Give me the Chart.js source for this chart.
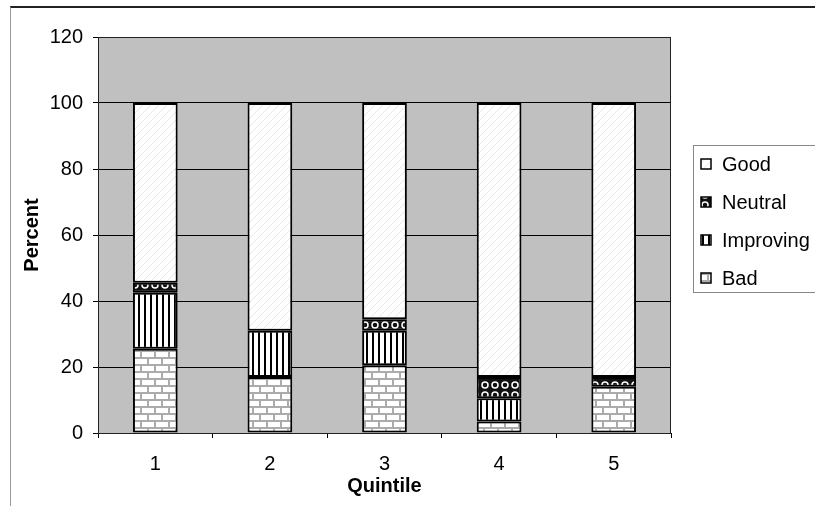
<!DOCTYPE html>
<html>
<head>
<meta charset="utf-8">
<script src="https://cdn.jsdelivr.net/npm/chart.js@4.4.1/dist/chart.umd.min.js"></script>
<style>
  body { margin: 0; background: #fff; }
  #wrap { position: relative; width: 815px; height: 506px; }
  #frame {
    position: absolute; left: 10px; top: 6px; right: 0; bottom: 0;
    border-top: 2px solid #222; border-left: 1px solid #999;
    pointer-events: none;
  }
</style>
</head>
<body>
<div id="wrap">
  <canvas id="quintileChart"></canvas>
  <div id="frame"></div>
</div>
<script>
const quintiles = ["1", "2", "3", "4", "5"];
const badValues = [25.5, 17, 20.5, 3.5, 14];
const improvingValues = [17, 14, 10.5, 7, null];
const neutralValues = [3, null, 3.5, 6.5, 3];
const goodValues = [54.5, 69, 65.5, 83, 83];
const yTicks = [0, 20, 40, 60, 80, 100, 120];

function makePattern(w, h, draw) {
    const c = document.createElement("canvas");
    c.width = w;
    c.height = h;
    const x = c.getContext("2d");
    draw(x, w, h);
    return x.createPattern(c, "repeat");
}

// brick
const badFill = makePattern(14, 14, function (x) {
    x.fillStyle = "#fff";
    x.fillRect(0, 0, 14, 14);
    x.fillStyle = "#ababab";
    x.fillRect(0, 0, 14, 2);
    x.fillRect(0, 7, 14, 2);
    x.fillRect(0, 0, 2, 7);
    x.fillRect(7, 7, 2, 7);
});

// vertical stripes
const improvingFill = makePattern(6, 6, function (x) {
    x.fillStyle = "#fff";
    x.fillRect(0, 0, 6, 6);
    x.fillStyle = "#000";
    x.fillRect(0, 0, 2, 6);
});

// dark with rings
const neutralFill = makePattern(10, 10, function (x) {
    x.fillStyle = "#111";
    x.fillRect(0, 0, 10, 10);
    x.strokeStyle = "#fff";
    x.lineWidth = 1.5;
    x.beginPath();
    x.arc(5, 5, 3, 0, Math.PI * 2);
    x.stroke();
});

// light diagonal
const goodFill = makePattern(8, 8, function (x) {
    x.fillStyle = "#fff";
    x.fillRect(0, 0, 8, 8);
    x.strokeStyle = "#e8e8e8";
    x.lineWidth = 1;
    x.beginPath();
    x.moveTo(0, 8);
    x.lineTo(8, 0);
    x.stroke();
});

const plotBackground = {
    id: "plotBackground",
    beforeDraw(chart) {
        const a = chart.chartArea;
        const ctx = chart.ctx;
        ctx.save();
        ctx.fillStyle = "#c0c0c0";
        ctx.fillRect(a.left, a.top, a.right - a.left, a.bottom - a.top);
        ctx.restore();
    },
    afterDraw(chart) {
        const a = chart.chartArea;
        const ctx = chart.ctx;
        ctx.save();
        ctx.strokeStyle = "#222";
        ctx.lineWidth = 1;
        ctx.strokeRect(a.left + 0.5, a.top + 0.5, a.right - a.left - 1, a.bottom - a.top);
        ctx.restore();
    }
};

const boxLegend = {
    id: "boxLegend",
    afterDraw(chart) {
        const ctx = chart.ctx;
        ctx.save();
        ctx.strokeStyle = "#888";
        ctx.lineWidth = 1;
        ctx.strokeRect(693.5, 145.5, 125, 147);
        ctx.font = '20px "Liberation Sans", Arial, sans-serif';
        ctx.textBaseline = "middle";
        ctx.fillStyle = "#000";
        const sets = chart.data.datasets.slice().reverse();
        sets.forEach(function (ds, i) {
            const y = 164 + i * 38;
            ctx.fillStyle = ds.backgroundColor;
            ctx.fillRect(701, y - 5, 10, 10);
            ctx.strokeStyle = "#000";
            ctx.lineWidth = 1.5;
            ctx.strokeRect(701, y - 5, 10, 10);
            ctx.fillStyle = "#000";
            ctx.fillText(ds.label, 722, y + 1);
        });
        ctx.restore();
    }
};

const ctx = document.getElementById("quintileChart").getContext("2d");

new Chart(ctx, {
    type: "bar",
    data: {
        labels: quintiles,
        datasets: [
            { label: "Bad", data: badValues, backgroundColor: badFill },
            { label: "Improving", data: improvingValues, backgroundColor: improvingFill },
            { label: "Neutral", data: neutralValues, backgroundColor: neutralFill },
            { label: "Good", data: goodValues, backgroundColor: goodFill },
        ].map(function (d) {
            return Object.assign(d, {
                borderColor: "#000",
                borderWidth: 2,
                borderSkipped: false,
                barPercentage: 0.39,
                categoryPercentage: 1,
            });
        }),
    },
    options: {
        responsive: true,
        maintainAspectRatio: false,
        animation: false,
        layout: { padding: { top: 37, right: 144, left: 0, bottom: 0 } },
        plugins: {
            legend: { display: false },
            tooltip: { enabled: false },
        },
        scales: {
            x: {
                stacked: true,
                grid: { drawOnChartArea: false, color: "#000", tickLength: 5, offset: true },
                border: { color: "#000", width: 1 },
                ticks: {
                    color: "#000",
                    padding: 14,
                    font: { family: '"Liberation Sans", Arial, sans-serif', size: 20 },
                },
                title: {
                    display: true,
                    text: "Quintile",
                    color: "#000",
                    padding: { top: 0, bottom: 8 },
                    font: { family: '"Liberation Sans", Arial, sans-serif', size: 20, weight: "bold" },
                },
                afterFit: function (scale) { scale.height = 73; },
            },
            y: {
                stacked: true,
                min: 0,
                max: 120,
                afterBuildTicks: function (scale) {
                    scale.ticks = yTicks.map(function (v) { return { value: v }; });
                },
                grid: { color: "#000", lineWidth: 1, tickLength: 5 },
                border: { color: "#000", width: 1 },
                ticks: {
                    color: "#000",
                    padding: 10,
                    font: { family: '"Liberation Sans", Arial, sans-serif', size: 20 },
                },
                title: {
                    display: true,
                    text: "Percent",
                    color: "#000",
                    padding: { top: 20, bottom: 0 },
                    font: { family: '"Liberation Sans", Arial, sans-serif', size: 20, weight: "bold" },
                },
                afterFit: function (scale) { scale.width = 98; },
            },
        },
    },
    plugins: [plotBackground, boxLegend],
});
</script>
</body>
</html>
